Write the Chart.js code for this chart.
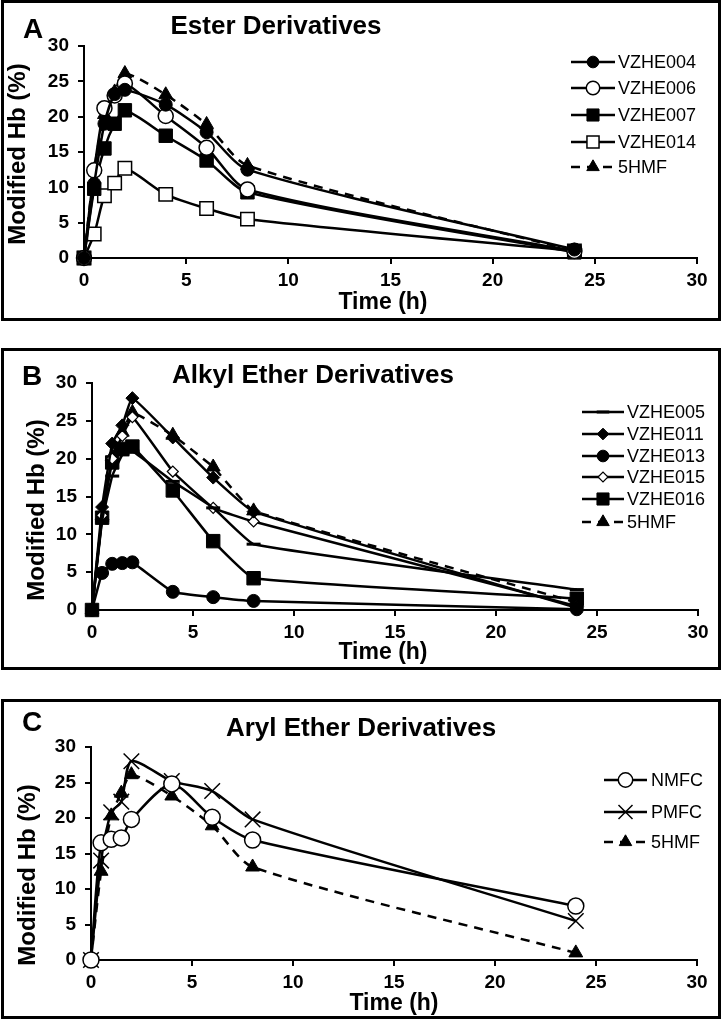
<!DOCTYPE html>
<html>
<head>
<meta charset="utf-8">
<script src="https://cdn.jsdelivr.net/npm/chart.js@4.4.1/dist/chart.umd.min.js"></script>
<style>
  html, body { margin: 0; padding: 0; background: #fff; }
  body { width: 722px; height: 1020px; position: relative; overflow: hidden; }
  .panel { position: absolute; left: 1px; width: 720px; box-sizing: border-box; border: 3px solid #000; }
  canvas { position: absolute; left: 0; }
</style>
</head>
<body>
<div class="panel" style="top:0px;height:321px"></div>
<div class="panel" style="top:348px;height:322px"></div>
<div class="panel" style="top:699px;height:320px"></div>
<canvas id="chartA" width="722" height="322" style="top:0px"></canvas>
<canvas id="chartB" width="722" height="322" style="top:348px"></canvas>
<canvas id="chartC" width="722" height="321" style="top:699px"></canvas>
<script>
// time points (h)
const timeH = [0, 0.5, 1, 1.5, 2, 4, 6, 8, 24];
const xTicks = [0, 5, 10, 15, 20, 25, 30];
const yTicks = [0, 5, 10, 15, 20, 25, 30];

// 5HMF reference curve (same in all panels)
const hmf5 = [0, 12.5, 20.3, 23.5, 26.1, 23.1, 18.9, 13.1, 1.0];

// A: ester derivatives
const vzhe004 = [0, 10.5, 19.0, 23.2, 23.8, 21.7, 17.8, 12.5, 1.2];
const vzhe006 = [0, 12.4, 21.2, 23.0, 24.7, 20.1, 15.6, 9.7, 1.0];
const vzhe007 = [0, 9.8, 15.5, 19.0, 20.9, 17.3, 13.8, 9.3, 0.8];
const vzhe014 = [0, 3.4, 8.8, 10.6, 12.7, 9.0, 7.0, 5.5, 1.0];

// B: alkyl ether derivatives
const vzhe005 = [0, 11.8, 17.7, 20.5, 21.0, 17.0, 13.5, 8.7, 2.7];
const vzhe011 = [0, 13.6, 22.0, 24.4, 28.0, 22.8, 17.5, 13.0, 0.3];
const vzhe013 = [0, 4.9, 6.1, 6.2, 6.3, 2.4, 1.7, 1.2, 0.1];
const vzhe015 = [0, 12.5, 20.0, 23.0, 25.5, 18.3, 13.5, 11.7, 0.5];
const vzhe016 = [0, 12.2, 19.5, 21.3, 21.6, 15.8, 9.1, 4.2, 1.5];

// C: aryl ether derivatives
const nmfc = [0, 16.5, 17.0, 17.2, 19.8, 24.8, 20.1, 16.9, 7.6];
const pmfc = [0, 14.0, 20.8, 22.3, 28.0, 25.2, 23.8, 19.8, 5.5];

const FONT = '"Liberation Sans", Arial, Helvetica, sans-serif';

// marker looks
const marks = {
  dot:      { pointStyle: 'circle',   pointRadius: 6.5, fill: '#000', bw: 1 },
  ring:     { pointStyle: 'circle',   pointRadius: 7.5, fill: '#fff', bw: 1.5 },
  block:    { pointStyle: 'rect',     pointRadius: 9.5, fill: '#000', bw: 1 },
  box:      { pointStyle: 'rect',     pointRadius: 9.5, fill: '#fff', bw: 1.5 },
  tri:      { pointStyle: 'triangle', pointRadius: 8,   fill: '#000', bw: 1 },
  diamond:  { pointStyle: 'rectRot',  pointRadius: 6.5, fill: '#000', bw: 1 },
  odiamond: { pointStyle: 'rectRot',  pointRadius: 5.5, fill: '#fff', bw: 1.2 },
  dash:     { pointStyle: 'line',     pointRadius: 7,   fill: '#000', bw: 3 },
  cross:    { pointStyle: 'crossRot', pointRadius: 11,  fill: '#000', bw: 1.5 },
  bigring:  { pointStyle: 'circle',   pointRadius: 8,   fill: '#fff', bw: 1.5 }
};

function series(label, values, mark, dashed) {
  const m = marks[mark];
  return {
    label,
    data: timeH.map((t, i) => ({ x: t, y: values[i] })),
    borderColor: '#000',
    borderWidth: 2.5,
    borderDash: dashed ? [9, 7] : [],
    pointStyle: m.pointStyle,
    pointRadius: m.pointRadius,
    pointHoverRadius: m.pointRadius,
    pointBackgroundColor: m.fill,
    pointBorderColor: '#000',
    pointBorderWidth: m.bw,
    clip: false
  };
}

// titles, axis labels and the excel-style legend
const panelDecor = {
  id: 'panelDecor',
  afterDraw(chart, args, o) {
    const ctx = chart.ctx;
    ctx.save();
    ctx.fillStyle = '#000';
    ctx.textBaseline = 'middle';
    ctx.textAlign = 'center';
    ctx.font = 'bold 28px ' + FONT;
    ctx.fillText(o.letter, o.letterAt[0], o.letterAt[1]);
    ctx.font = 'bold 26px ' + FONT;
    ctx.fillText(o.title, o.titleAt[0], o.titleAt[1]);
    ctx.font = 'bold 23px ' + FONT;
    ctx.fillText('Time (h)', o.xTitleAt[0], o.xTitleAt[1]);
    ctx.translate(o.yTitleAt[0], o.yTitleAt[1]);
    ctx.rotate(-Math.PI / 2);
    ctx.font = 'bold 24px ' + FONT;
    ctx.fillText('Modified Hb (%)', 0, 0);
    ctx.restore();

    // legend
    ctx.save();
    chart.data.datasets.forEach((ds, i) => {
      const y = o.legendRows[i];
      ctx.strokeStyle = '#000';
      ctx.lineWidth = 2.5;
      ctx.setLineDash(ds.borderDash || []);
      ctx.beginPath();
      ctx.moveTo(o.legendLine[0], y);
      ctx.lineTo(o.legendLine[1], y);
      ctx.stroke();
      ctx.setLineDash([]);
      const cx = (o.legendLine[0] + o.legendLine[1]) / 2;
      ctx.fillStyle = ds.pointBackgroundColor;
      ctx.strokeStyle = '#000';
      ctx.lineWidth = ds.pointBorderWidth;
      Chart.helpers.drawPoint(ctx, {
        pointStyle: ds.pointStyle,
        radius: ds.pointRadius * 0.9,
        rotation: 0,
        borderWidth: ds.pointBorderWidth
      }, cx, y);
      ctx.fillStyle = '#000';
      ctx.font = '18px ' + FONT;
      ctx.textAlign = 'left';
      ctx.textBaseline = 'middle';
      ctx.fillText(ds.label, o.legendText, y + 1);
    });
    ctx.restore();
  }
};

function makePanel(id, datasets, box, decor, tension) {
  const tickFont = { family: FONT, size: 19, weight: 'bold' };
  const axisGrid = { drawOnChartArea: false, drawTicks: true, tickLength: 6, color: '#000', lineWidth: 2 };
  datasets.forEach(d => { d.tension = tension; });
  return new Chart(document.getElementById(id), {
    type: 'line',
    data: { datasets },
    options: {
      responsive: false,
      animation: false,
      devicePixelRatio: 1,
      layout: { padding: { top: box.top, right: box.right, bottom: 0, left: 0 } },
      plugins: { legend: { display: false }, tooltip: { enabled: false }, panelDecor: decor },
      scales: {
        x: {
          type: 'linear', min: 0, max: 30,
          afterBuildTicks: s => { s.ticks = xTicks.map(v => ({ value: v })); },
          afterFit: s => { s.height = box.xH; },
          grid: axisGrid,
          border: { display: true, color: '#000', width: 2 },
          ticks: { font: tickFont, color: '#000', padding: 5, maxRotation: 0, autoSkip: false }
        },
        y: {
          type: 'linear', min: 0, max: 30,
          afterBuildTicks: s => { s.ticks = yTicks.map(v => ({ value: v })); },
          afterFit: s => { s.width = box.yW; },
          grid: axisGrid,
          border: { display: true, color: '#000', width: 2 },
          ticks: { font: tickFont, color: '#000', padding: 9 }
        }
      }
    },
    plugins: [panelDecor]
  });
}

makePanel('chartA', [
  series('VZHE004', vzhe004, 'dot'),
  series('VZHE006', vzhe006, 'ring'),
  series('VZHE007', vzhe007, 'block'),
  series('VZHE014', vzhe014, 'box'),
  series('5HMF', hmf5, 'tri', true)
], { top: 46, right: 25, yW: 84, xH: 64 }, {
  letter: 'A', letterAt: [33, 30], title: 'Ester Derivatives', titleAt: [276, 27],
  yTitleAt: [18, 154], xTitleAt: [383, 303],
  legendRows: [62, 88, 115, 142, 167], legendLine: [571, 615], legendText: 618
}, 0.25);

makePanel('chartB', [
  series('VZHE005', vzhe005, 'dash'),
  series('VZHE011', vzhe011, 'diamond'),
  series('VZHE013', vzhe013, 'dot'),
  series('VZHE015', vzhe015, 'odiamond'),
  series('VZHE016', vzhe016, 'block'),
  series('5HMF', hmf5, 'tri', true)
], { top: 35, right: 24, yW: 92, xH: 60 }, {
  letter: 'B', letterAt: [32, 29], title: 'Alkyl Ether Derivatives', titleAt: [313, 28],
  yTitleAt: [37, 162], xTitleAt: [383, 305],
  legendRows: [64, 86, 108, 129, 151, 174], legendLine: [582, 624], legendText: 627
}, 0.1);

makePanel('chartC', [
  series('NMFC', nmfc, 'bigring'),
  series('PMFC', pmfc, 'cross'),
  series('5HMF', hmf5, 'tri', true)
], { top: 48, right: 25, yW: 91, xH: 60 }, {
  letter: 'C', letterAt: [32, 24], title: 'Aryl Ether Derivatives', titleAt: [361, 30],
  yTitleAt: [28, 176], xTitleAt: [394, 305],
  legendRows: [81, 113, 143], legendLine: [604, 647], legendText: 651
}, 0.25);
</script>
</body>
</html>
